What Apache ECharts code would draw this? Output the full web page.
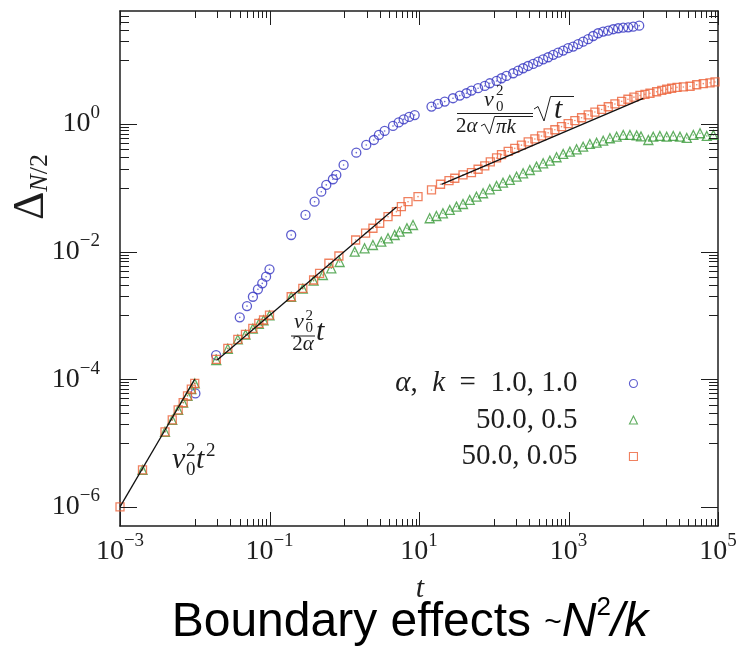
<!DOCTYPE html>
<html>
<head>
<meta charset="utf-8">
<script src="https://cdn.jsdelivr.net/npm/echarts@6/dist/echarts.min.js"></script>
<style>
  html, body { margin: 0; padding: 0; background: #fff; }
  #chart { width: 738px; height: 651px; }
</style>
</head>
<body>
<div id="chart"></div>
<script>
// ---- data: time t and half-chain displacement Δ_{N/2} for each run ----
const blueT = [0.0102, 0.0193, 0.04, 0.05, 0.06, 0.07, 0.08, 0.09, 0.1,
  0.195, 0.303, 0.401, 0.493, 0.575, 0.705, 0.783, 0.98, 1.45, 1.97, 2.49, 2.91, 3.47,
  4.49, 5.35, 6.24, 7.39, 8.75,
  14.7, 17.9, 22.1, 28.5, 35.1, 43.1, 50.3, 61.7, 75.8, 88.5, 109, 127, 148, 182, 212,
  247, 288, 337, 393, 458, 535, 624, 727, 848, 989, 1153, 1346, 1570, 1832, 2138, 2494,
  2910, 3395, 3961, 4620, 5390, 6290, 7340, 8830];
const blueD = [6.0e-5, 2.39e-4, 9.33e-4, 1.40e-3, 1.96e-3, 2.56e-3, 3.18e-3, 4.04e-3, 5.28e-3,
  0.0182, 0.0375, 0.0605, 0.0868, 0.111, 0.136, 0.159, 0.228, 0.355, 0.469, 0.561, 0.673, 0.777,
  0.93, 1.055, 1.18, 1.29, 1.38,
  1.87, 2.06, 2.24, 2.53, 2.78, 3.03, 3.33, 3.63, 3.94, 4.34, 4.72, 5.2, 5.65, 6.23, 6.84,
  7.46, 8.1, 8.72, 9.47, 10.3, 11.1, 12.1, 13.1, 14.1, 15.4, 16.3, 17.8, 19.5, 21.3, 23.9, 26.4,
  28.0, 29.0, 30.5, 31.6, 32.3, 32.7, 33.5, 34.7];

const greenT = [0.002, 0.004, 0.005, 0.006, 0.007, 0.008, 0.009, 0.01,
  0.0194, 0.0277, 0.0377, 0.0477, 0.0598, 0.072, 0.0832, 0.1, 0.195, 0.279, 0.389, 0.518,
  0.671, 0.867, 1.38, 1.87, 2.42, 3.13, 3.85, 4.73, 5.51, 6.90, 8.32,
  13.9, 17.1, 20.9, 25.8, 31.7, 38.8, 47.7, 58.7, 72.0, 88.5, 109, 133, 164, 202, 247, 304,
  373, 458, 563, 692, 849, 1043, 1282, 1570, 1932, 2377, 2911, 3580, 4406, 5400, 6640, 8170,
  9330, 11700, 13600, 16700, 20600, 25200, 31000, 38200, 46800, 57500, 70800, 86700];
const greenD = [3.8e-6, 1.5e-5, 2.3e-5, 3.3e-5, 4.3e-5, 5.5e-5, 7.0e-5, 8.6e-5,
  2.0e-4, 3.0e-4, 4.2e-4, 5.0e-4, 6.2e-4, 7.4e-4, 8.4e-4, 1.0e-3, 1.95e-3, 2.62e-3, 3.5e-3, 4.30e-3,
  5.47e-3, 6.87e-3, 0.0100, 0.01127, 0.01268, 0.0143, 0.01615, 0.0182, 0.0205, 0.0232, 0.0261,
  0.0333, 0.0361, 0.0398, 0.0449, 0.0506, 0.0557, 0.0644, 0.0725, 0.082, 0.0947, 0.1067, 0.120,
  0.1325, 0.149, 0.1687, 0.190, 0.2143, 0.242, 0.266, 0.3007, 0.339, 0.368, 0.401, 0.4406, 0.486,
  0.509, 0.547, 0.597, 0.632, 0.672, 0.672, 0.661, 0.637, 0.561, 0.632, 0.649, 0.632, 0.649,
  0.632, 0.604, 0.672, 0.715, 0.649, 0.672];

const orangeT = [0.001, 0.002, 0.004, 0.005, 0.006, 0.007, 0.008, 0.009, 0.01,
  0.0194, 0.0277, 0.0377, 0.0477, 0.0598, 0.072, 0.0832, 0.1, 0.195, 0.279, 0.389, 0.468,
  0.623, 0.848, 1.42, 1.93, 2.42, 2.98, 3.85, 4.98, 5.81, 7.13, 9.7,
  14.7, 19.4, 25.2, 30.1, 38.8, 50.3, 61.7, 75.8, 89.9, 109, 127, 156, 191, 235, 289, 355,
  436, 534, 657, 807, 990, 1217, 1496, 1835, 2255, 2773, 3404, 4178, 5140, 6240, 7510, 9040,
  10540, 12300, 15100, 17700, 20600, 24000, 28300, 34400, 42300, 51900, 63600, 78200, 91200];
const orangeD = [1.0e-6, 3.8e-6, 1.5e-5, 2.3e-5, 3.3e-5, 4.3e-5, 5.5e-5, 7.0e-5, 8.6e-5,
  2.05e-4, 3.05e-4, 4.22e-4, 5.05e-4, 6.28e-4, 7.52e-4, 8.47e-4, 1.01e-3, 1.96e-3, 2.65e-3,
  3.59e-3, 4.57e-3, 6.56e-3, 8.53e-3, 0.0152, 0.0194, 0.0232, 0.0278, 0.0352, 0.0422, 0.0506,
  0.0605, 0.0726,
  0.0924, 0.1135, 0.129, 0.141, 0.159, 0.1725, 0.195, 0.220, 0.2537, 0.2932, 0.3302, 0.3707,
  0.4147, 0.4653, 0.5223, 0.5818, 0.6483, 0.7253, 0.8112, 0.9072, 1.015, 1.131, 1.251, 1.389,
  1.537, 1.688, 1.860, 2.058, 2.261, 2.439, 2.631, 2.797, 2.910, 3.028, 3.197, 3.363, 3.499,
  3.627, 3.747, 3.802, 3.899, 4.116, 4.282, 4.408, 4.552];

// asymptotic guide lines: v0^2 t^2, v0^2 t / (2α), v0^2 sqrt(t) / (2α sqrt(πk))
const ballisticT = [0.001, 0.01];
const ballisticD = [1e-6, 1e-4];
const driftT = [0.02, 5];
const driftD = [2e-4, 0.05];
const diffusiveT = [20, 1e4];
const diffusiveD = [0.113, 2.52];

// legend entries and labelled decades
const seriesNames = ['α, k = 1.0, 1.0', '50.0, 0.5', '50.0, 0.05'];
const xLabelExps = [-3, -1, 1, 3, 5];
const yLabelExps = [-6, -4, -2, 0];

const SERIF = '"Liberation Serif", "Times New Roman", serif';
const SANS = '"Liberation Sans", Arial, sans-serif';
const INK = '#1e1e1e';
const BLUE = '#3333c2';
const GREEN = '#3a9a3a';
const ORANGE = '#ec6238';

const X_MIN = 1e-3, X_MAX = 1e5;
const Y_MIN = Math.pow(10, -6.3), Y_MAX = Math.pow(10, 1.77);

const zip = (a, b) => a.map((v, i) => [v, b[i]]);

// tick marks: long ticks at labelled decades, short ticks at k·10^(n+1) inside each labelled span
function buildTicks(labelExps, lo, hi, longLen, shortLen) {
  const out = [];
  labelExps.forEach(e => {
    const v = Math.pow(10, e);
    if (v >= lo && v <= hi) out.push([v, longLen]);
    for (let k = 1; k <= 9; k++) {
      const m = k * Math.pow(10, e + 1);
      if (m > lo && m < hi) out.push([m, shortLen]);
    }
  });
  return out;
}
const xTicks = buildTicks(xLabelExps, X_MIN, X_MAX, 14, 7);
const yTicks = buildTicks(yLabelExps, Y_MIN, Y_MAX, 17, 9);

function expLabel(allowed) {
  return function (v) {
    const e = Math.log10(v);
    const r = Math.round(e);
    if (Math.abs(e - r) > 1e-6 || allowed.indexOf(r) < 0) return '';
    return '{b|10}{s|' + (r < 0 ? '\u2212' + (-r) : String(r)) + '}';
  };
}
const labelRich = {
  b: { fontFamily: SERIF, fontSize: 28, lineHeight: 40, color: INK },
  s: { fontFamily: SERIF, fontSize: 19, lineHeight: 20, verticalAlign: 'top', color: INK }
};

function scatterSeries(name, data, symbol, size, color) {
  return {
    name, type: 'scatter', data, symbol, symbolSize: size,
    itemStyle: { color: 'rgba(0,0,0,0)', borderColor: color, borderWidth: 1.3 },
    emphasis: { disabled: true }, silent: true
  };
}
function dotSeries(name, data, color) {
  return {
    name, type: 'scatter', data, symbol: 'circle', symbolSize: 1.6,
    itemStyle: { color, opacity: 0.75 }, silent: true, emphasis: { disabled: true }
  };
}
function guideSeries(name, t, d) {
  return {
    name, type: 'line', data: zip(t, d), showSymbol: false, symbol: 'none',
    lineStyle: { color: '#111', width: 1.3 }, silent: true, z: 5
  };
}
function tickSeries(name, ticks, horizontal) {
  return {
    name, type: 'custom', silent: true, z: 6, clip: false,
    data: ticks.map(t => horizontal ? [t[0], 1, t[1]] : [1, t[0], t[1]]),
    renderItem: function (params, api) {
      const cs = params.coordSys;
      const len = api.value(2);
      const st = { stroke: INK, lineWidth: 1 };
      if (horizontal) {
        const px = Math.round(api.coord([api.value(0), 1])[0]) + 0.5;
        const b = cs.y + cs.height, t = cs.y;
        return { type: 'group', children: [
          { type: 'line', shape: { x1: px, y1: b, x2: px, y2: b - len }, style: st },
          { type: 'line', shape: { x1: px, y1: t, x2: px, y2: t + len }, style: st }
        ]};
      }
      const py = Math.round(api.coord([1, api.value(1)])[1]) + 0.5;
      const l = cs.x, r = cs.x + cs.width;
      return { type: 'group', children: [
        { type: 'line', shape: { x1: l, y1: py, x2: l + len, y2: py }, style: st },
        { type: 'line', shape: { x1: r, y1: py, x2: r - len, y2: py }, style: st }
      ]};
    }
  };
}

// math annotation helpers
function tx(x, y, text, size, italic, align) {
  return { type: 'text', x, y, silent: true, z: 20, style: {
    text, fontFamily: SERIF, fontSize: size, fontStyle: italic ? 'italic' : 'normal',
    fill: INK, align: align || 'left', verticalAlign: 'middle' } };
}
function rtx(x, y, text, size, align) {
  return { type: 'text', x, y, silent: true, z: 20, style: {
    text, fontFamily: SERIF, fontSize: size, fill: INK, align: align || 'left', verticalAlign: 'middle',
    rich: {
      n: { fontFamily: SERIF, fontSize: size, fill: INK },
      i: { fontFamily: SERIF, fontSize: size, fontStyle: 'italic', fill: INK }
    } } };
}
function seg(pts, w) {
  return { type: 'polyline', silent: true, z: 20, shape: { points: pts },
    style: { stroke: INK, lineWidth: w || 1, fill: null } };
}

const annotations = [
  // v0^2 t^2
  tx(172, 460, 'v', 30, true), tx(186, 451, '2', 19), tx(186, 470, '0', 19),
  tx(196, 460, 't', 30, true), tx(206, 451, '2', 19),
  // v0^2/(2α) t
  tx(294, 322.5, 'v', 22, true), tx(305.5, 316, '2', 15), tx(305.5, 328, '0', 15),
  seg([[291, 336], [315, 336]]),
  rtx(303, 344, '{n|2}{i|α}', 21, 'center'),
  tx(316, 332, 't', 30, true),
  // v0^2/(2α sqrt(πk)) sqrt(t)
  tx(484, 100.5, 'v', 22, true), tx(496, 91.5, '2', 15), tx(496, 107.5, '0', 15),
  seg([[457, 113.5], [533, 113.5]]),
  rtx(456, 126, '{n|2}{i|α}', 21),
  seg([[481, 126], [484.5, 124], [489.5, 134], [494.5, 116.5], [533, 116.5]]),
  tx(496, 127, 'πk', 21, true),
  seg([[534, 109], [538, 106.5], [544, 121], [550.5, 96.5], [574, 96.5]]),
  tx(554, 110, 't', 30, true)
];

const axisTitles = [
  // y-axis name Δ_{N/2}
  { type: 'text', x: 31, y: 187, rotation: Math.PI / 2, silent: true, z: 20, style: {
    text: '{d|Δ}{s|N}{u|/2}', align: 'center', verticalAlign: 'middle',
    rich: {
      d: { fontFamily: SERIF, fontSize: 44, lineHeight: 44, fill: INK },
      s: { fontFamily: SERIF, fontSize: 26, fontStyle: 'italic', lineHeight: 18, verticalAlign: 'bottom', fill: INK },
      u: { fontFamily: SERIF, fontSize: 26, lineHeight: 18, verticalAlign: 'bottom', fill: INK }
    } } },
  // x-axis name t
  tx(420, 589.5, 't', 30, true, 'center'),
  // caption
  { type: 'text', x: 410, y: 623, silent: true, z: 20, style: {
    text: '{a|Boundary effects }{b|~}{c|N}{d|2}{c|/k}', align: 'center', verticalAlign: 'middle',
    rich: {
      a: { fontFamily: SANS, fontSize: 48, lineHeight: 56, fill: '#000' },
      b: { fontFamily: SANS, fontSize: 30, lineHeight: 56, fill: '#000' },
      c: { fontFamily: SANS, fontSize: 48, fontStyle: 'italic', lineHeight: 56, fill: '#000' },
      d: { fontFamily: SANS, fontSize: 26, lineHeight: 40, verticalAlign: 'top', fill: '#000' }
    } } }
];

const legendText = {};
legendText[seriesNames[0]] = '{i|α}{n|,  }{i|k}{e|  =  1.0, 1.0}';
legendText[seriesNames[1]] = '{e|50.0, 0.5}';
legendText[seriesNames[2]] = '{e|50.0, 0.05}';

const axisLineStyle = { show: true, lineStyle: { color: INK, width: 1.5 } };

const option = {
  animation: false,
  backgroundColor: '#fff',
  grid: { left: 120, right: 20, top: 11, bottom: 125, containLabel: false, outerBoundsMode: 'none' },
  xAxis: [
    { type: 'log', min: X_MIN, max: X_MAX, position: 'bottom',
      axisLine: axisLineStyle, axisTick: { show: false }, splitLine: { show: false },
      axisLabel: { interval: 0, margin: 6, formatter: expLabel(xLabelExps), rich: labelRich,
        showMinLabel: true, showMaxLabel: true, hideOverlap: false } },
    { type: 'log', min: X_MIN, max: X_MAX, position: 'top',
      axisLine: axisLineStyle, axisTick: { show: false }, splitLine: { show: false }, axisLabel: { show: false } }
  ],
  yAxis: [
    { type: 'log', min: Y_MIN, max: Y_MAX, position: 'left',
      axisLine: axisLineStyle, axisTick: { show: false }, splitLine: { show: false },
      axisLabel: { interval: 0, margin: 20, formatter: expLabel(yLabelExps), rich: labelRich, hideOverlap: false } },
    { type: 'log', min: Y_MIN, max: Y_MAX, position: 'right',
      axisLine: axisLineStyle, axisTick: { show: false }, splitLine: { show: false }, axisLabel: { show: false } }
  ],
  legend: {
    data: seriesNames, orient: 'vertical', align: 'right', right: 95, top: 364,
    itemWidth: 8, itemHeight: 8, itemGap: 7.5, selectedMode: false,
    itemStyle: { borderWidth: 1.1 },
    formatter: name => legendText[name],
    textStyle: { color: INK, rich: {
      i: { fontFamily: SERIF, fontSize: 29, fontStyle: 'italic', lineHeight: 30, color: INK },
      n: { fontFamily: SERIF, fontSize: 29, lineHeight: 30, color: INK },
      e: { fontFamily: SERIF, fontSize: 29, lineHeight: 30, color: INK, padding: [0, 47, 0, 0] }
    } }
  },
  graphic: annotations.concat(axisTitles),
  series: [
    scatterSeries(seriesNames[0], zip(blueT, blueD), 'circle', 9, BLUE),
    dotSeries('blue-centre', zip(blueT, blueD), BLUE),
    scatterSeries(seriesNames[1], zip(greenT, greenD), 'triangle', 9, GREEN),
    dotSeries('green-centre', zip(greenT, greenD), GREEN),
    scatterSeries(seriesNames[2], zip(orangeT, orangeD), 'rect', 8, ORANGE),
    dotSeries('orange-centre', zip(orangeT, orangeD), ORANGE),
    guideSeries('ballistic', ballisticT, ballisticD),
    guideSeries('drift', driftT, driftD),
    guideSeries('diffusive', diffusiveT, diffusiveD),
    tickSeries('x-ticks', xTicks, true),
    tickSeries('y-ticks', yTicks, false)
  ]
};

const chart = echarts.init(document.getElementById('chart'), null, { renderer: 'canvas' });
chart.setOption(option);
</script>
</body>
</html>
